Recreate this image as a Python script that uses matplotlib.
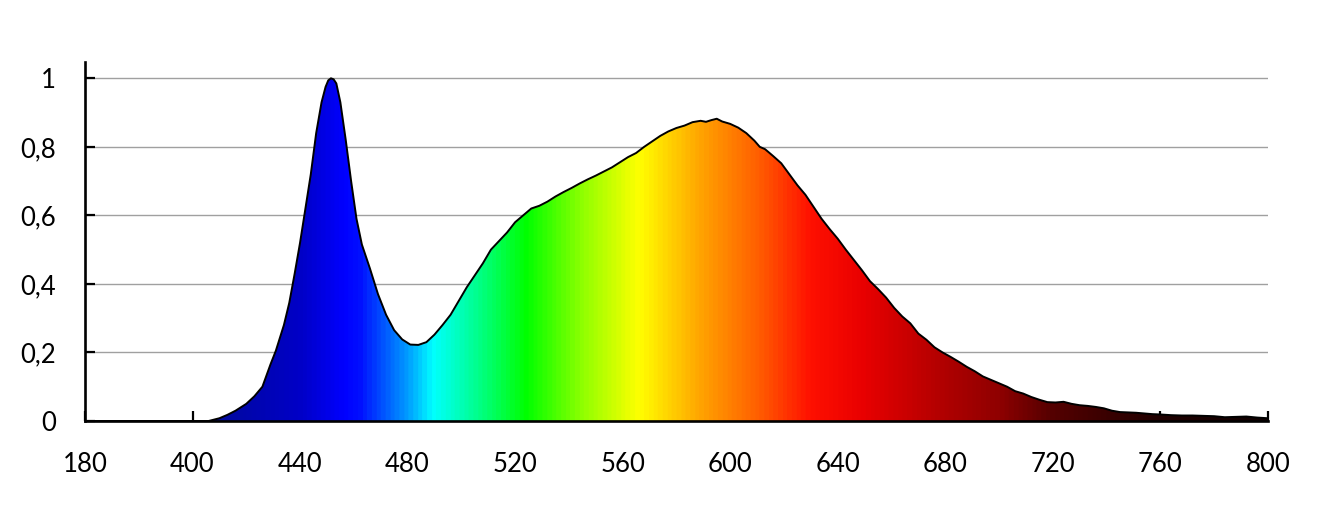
import numpy as np
import matplotlib
matplotlib.use("Agg")
import matplotlib.pyplot as plt
from matplotlib.colors import LinearSegmentedColormap

plt.rcParams["font.family"] = ["Lato", "DejaVu Sans"]

# spectrum (wavelength nm, relative intensity)
wavelength = [360, 400, 406, 410, 413, 416, 420, 423, 426, 429, 431, 434, 436, 438,
              440, 442, 444, 446, 448, 449.5, 450.5, 451.5, 452.5, 453.5, 455, 457, 459, 461, 463, 466,
              469, 472, 475, 478, 481, 484, 487, 490, 493, 496, 499, 502, 505, 508,
              511, 514, 517, 520, 523, 526, 529, 532, 535, 538, 541, 544, 547, 550,
              553, 556, 559, 562, 565, 568, 571, 574, 577, 580, 583, 586, 589, 591,
              593, 595, 597, 600, 603, 606, 609, 611, 613, 616, 619, 622, 625, 628,
              631, 634, 637, 640, 643, 646, 649, 652, 655, 658, 661, 664, 667, 670,
              673, 676, 679, 682, 685, 688, 691, 694, 697, 700, 703, 706, 709, 712,
              715, 718, 721, 724, 727, 730, 733, 736, 739, 742, 745, 748, 751, 754,
              757, 760, 764, 768, 772, 776, 780, 784, 788, 792, 796, 800]
intensity = [0, 0, 0, 0.008, 0.018, 0.03, 0.05, 0.072, 0.1, 0.165, 0.205, 0.28, 0.345, 0.43,
             0.52, 0.62, 0.72, 0.84, 0.93, 0.975, 0.994, 1.0, 0.997, 0.985, 0.93, 0.82, 0.7, 0.59, 0.515, 0.445,
             0.37, 0.31, 0.265, 0.238, 0.223, 0.222, 0.23, 0.252, 0.28, 0.31, 0.35, 0.39, 0.425, 0.46,
             0.5, 0.525, 0.55, 0.58, 0.6, 0.62, 0.628, 0.64, 0.655, 0.668, 0.68, 0.693, 0.705, 0.716,
             0.728, 0.74, 0.755, 0.77, 0.782, 0.8, 0.816, 0.832, 0.845, 0.855, 0.862, 0.872, 0.876, 0.873,
             0.878, 0.882, 0.874, 0.867, 0.856, 0.84, 0.818, 0.8, 0.793, 0.773, 0.752, 0.72, 0.688, 0.66,
             0.625, 0.59, 0.56, 0.532, 0.5, 0.47, 0.44, 0.408, 0.385, 0.36, 0.33, 0.305, 0.285, 0.255,
             0.237, 0.215, 0.2, 0.187, 0.173, 0.158, 0.145, 0.13, 0.12, 0.11, 0.1, 0.087, 0.08, 0.07,
             0.062, 0.055, 0.054, 0.056, 0.05, 0.046, 0.044, 0.041, 0.037, 0.03, 0.026, 0.025, 0.024, 0.022,
             0.02, 0.019, 0.017, 0.016, 0.016, 0.015, 0.014, 0.011, 0.012, 0.013, 0.01, 0.008]

# colour stops of the rainbow fill
stop_nm = [360, 410, 440, 456, 462, 470, 480, 489, 505, 524, 545, 566, 590, 610, 630,
           650, 680, 700, 720, 760, 800]
stop_col = ["#000070", "#0008a0", "#0000c8", "#0000ff", "#0010ff", "#0050ff", "#00a0ff",
            "#00ffff", "#00ff90", "#00ff00", "#90ff00", "#ffff00", "#ffa000", "#ff6000",
            "#ff1000", "#e80000", "#b00000", "#900000", "#550000", "#200000", "#100000"]

xticks = [360, 400, 440, 480, 520, 560, 600, 640, 680, 720, 760, 800]
xtick_labels = ["180", "400", "440", "480", "520", "560", "600", "640", "680", "720", "760", "800"]
yticks = [0, 0.2, 0.4, 0.6, 0.8, 1.0]
ytick_labels = ["0", "0,2", "0,4", "0,6", "0,8", "1"]

fig = plt.figure(figsize=(13.36, 5.24), dpi=100)
ax = fig.add_axes([0.0636, 0.1966, 0.8854, 0.6851])

x0, x1 = stop_nm[0], stop_nm[-1]
cmap = LinearSegmentedColormap.from_list(
    "spec", [((n - x0) / (x1 - x0), c) for n, c in zip(stop_nm, stop_col)])

poly = ax.fill_between(wavelength, intensity, 0, color="none", lw=0)
grad = np.linspace(0, 1, 1200).reshape(1, -1)
img = ax.imshow(grad, cmap=cmap, extent=[x0, x1, 0, 1.05], aspect="auto",
                origin="lower", zorder=2, interpolation="bilinear")
img.set_clip_path(poly.get_paths()[0], transform=ax.transData)
ax.plot(wavelength, intensity, color="black", lw=1.4, zorder=3)

ax.set_xlim(360, 800)
ax.set_ylim(0, 1.0476)
ax.set_xticks(xticks)
ax.set_xticklabels(xtick_labels)
ax.set_yticks(yticks)
ax.set_yticklabels(ytick_labels)

ax.yaxis.grid(True, color="#a0a0a0", lw=1.0)
ax.set_axisbelow(True)
for s in ["top", "right"]:
    ax.spines[s].set_visible(False)
for s in ["left", "bottom"]:
    ax.spines[s].set_linewidth(1.9)
    ax.spines[s].set_zorder(4)

ax.tick_params(axis="x", direction="in", length=7, width=1.6, labelsize=18.5, pad=22)
ax.tick_params(axis="y", direction="in", length=7, width=1.6, labelsize=18.5, pad=21)

fig.savefig("out.png", dpi=100)
